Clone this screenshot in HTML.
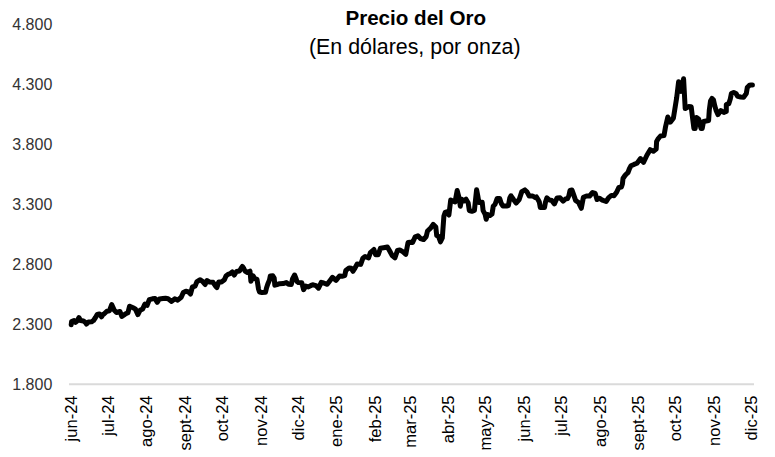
<!DOCTYPE html>
<html><head><meta charset="utf-8"><style>
html,body{margin:0;padding:0;background:#fff;}
body{width:775px;height:457px;overflow:hidden;position:relative;}
svg{position:absolute;left:0;top:0;}
.yl{font-family:"Liberation Sans",sans-serif;font-size:16px;fill:#333;}
.xl{font-family:"Liberation Sans",sans-serif;font-size:16.5px;fill:#000;}
.t1{font-family:"Liberation Sans",sans-serif;font-size:20.6px;font-weight:bold;fill:#000;}
.t2{font-family:"Liberation Sans",sans-serif;font-size:21.4px;fill:#000;}
</style></head><body>
<svg width="775" height="457" viewBox="0 0 775 457">
<text x="415.8" y="25.3" text-anchor="middle" class="t1">Precio del Oro</text>
<text x="414.8" y="54" text-anchor="middle" class="t2">(En dólares, por onza)</text>
<text x="52.3" y="30.05" text-anchor="end" class="yl">4.800</text>
<text x="52.3" y="90.05" text-anchor="end" class="yl">4.300</text>
<text x="52.3" y="150.05" text-anchor="end" class="yl">3.800</text>
<text x="52.3" y="210.05" text-anchor="end" class="yl">3.300</text>
<text x="52.3" y="270.05" text-anchor="end" class="yl">2.800</text>
<text x="52.3" y="330.05" text-anchor="end" class="yl">2.300</text>
<text x="52.3" y="390.05" text-anchor="end" class="yl">1.800</text>

<line x1="69" y1="384.2" x2="754" y2="384.2" stroke="#dadada" stroke-width="2"/>
<path d="M71.2,324.8 L71.6,321.6 L74.0,320.6 L75.5,322.3 L77.0,321.0 L79.0,317.6 L80.5,320.5 L83.5,321.0 L85.5,322.5 L86.5,324.0 L88.5,322.0 L91.5,321.8 L93.5,320.5 L95.5,317.5 L97.2,314.5 L99.5,314.0 L101.5,316.8 L103.0,314.5 L104.2,313.8 L106.9,311.2 L109.5,310.7 L111.7,304.6 L114.3,310.3 L116.5,312.5 L120.0,311.5 L121.8,316.5 L125.2,314.1 L127.9,312.8 L129.6,306.2 L133.1,307.8 L135.3,308.9 L137.9,314.6 L140.1,310.2 L142.7,308.9 L144.9,304.1 L147.1,305.4 L149.3,299.7 L152.4,298.8 L155.0,298.4 L157.2,302.3 L159.4,299.0 L162.9,298.6 L165.5,298.3 L168.1,298.8 L171.6,301.4 L174.7,298.8 L177.7,300.1 L181.2,297.3 L183.3,292.5 L185.9,291.2 L188.5,292.0 L190.5,294.0 L192.4,287.0 L195.1,286.2 L196.8,281.9 L199.9,279.7 L202.5,281.4 L205.1,284.5 L206.9,280.6 L209.5,281.9 L213.0,282.3 L215.6,286.2 L216.9,287.6 L218.7,281.9 L221.7,281.9 L224.4,279.7 L226.0,276.0 L228.0,274.4 L230.5,273.5 L232.3,272.0 L234.3,275.0 L236.5,271.5 L239.5,271.0 L241.0,268.5 L242.4,266.5 L243.8,268.5 L245.0,271.0 L247.5,272.5 L250.0,271.1 L250.9,281.2 L253.1,275.9 L254.8,278.6 L257.0,279.4 L258.5,289.0 L259.5,292.0 L262.0,292.5 L265.5,292.3 L266.5,288.0 L267.8,284.0 L269.5,280.0 L270.3,276.0 L272.8,275.8 L274.2,278.0 L274.8,285.2 L277.1,284.5 L279.7,283.7 L283.2,283.6 L286.3,282.5 L288.5,284.2 L291.3,284.4 L292.5,279.0 L294.6,275.0 L296.0,278.5 L297.0,281.5 L298.4,282.6 L301.8,282.8 L303.6,289.6 L305.8,286.1 L308.4,286.9 L311.5,285.2 L313.2,284.8 L315.9,285.6 L318.5,288.2 L321.3,282.4 L323.7,283.0 L327.2,284.3 L329.9,280.8 L332.5,277.3 L336.0,280.4 L339.5,276.0 L342.1,276.2 L344.8,275.6 L345.8,270.5 L349.1,267.9 L351.3,268.3 L353.0,271.3 L354.6,268.7 L357.2,263.9 L360.7,264.4 L362.9,258.2 L365.1,256.5 L368.6,257.8 L370.4,252.6 L373.9,249.5 L375.6,254.7 L378.2,254.7 L380.4,248.2 L383.5,247.7 L387.4,247.0 L389.6,250.8 L392.2,255.6 L394.9,257.8 L397.5,250.4 L399.7,249.9 L402.7,251.7 L405.8,254.3 L408.0,242.6 L410.2,242.3 L412.6,242.6 L415.2,236.8 L417.9,235.8 L420.5,238.5 L423.6,239.5 L426.2,236.5 L427.5,231.0 L430.6,228.2 L433.2,224.4 L435.8,227.1 L436.7,235.4 L438.4,236.2 L440.5,241.8 L442.3,238.0 L443.9,216.0 L445.2,212.4 L446.7,211.9 L446.7,212.1 L448.9,215.0 L450.7,200.1 L452.4,200.8 L455.1,201.8 L457.2,190.5 L459.0,197.5 L460.3,206.2 L461.6,199.2 L463.8,201.0 L466.0,199.2 L468.2,203.0 L469.3,210.5 L472.0,211.3 L474.4,210.5 L475.6,199.0 L476.6,189.8 L477.8,196.0 L478.9,202.5 L482.2,202.2 L483.1,210.6 L485.0,214.0 L486.2,219.2 L487.6,214.5 L490.0,215.5 L492.0,214.0 L493.3,206.0 L495.0,204.5 L497.1,198.6 L499.7,198.6 L501.3,203.5 L503.0,206.0 L506.5,206.0 L508.4,205.5 L509.8,198.0 L511.0,195.8 L513.5,199.5 L516.1,203.0 L519.2,199.5 L521.8,191.6 L524.9,189.9 L527.1,192.1 L529.2,196.0 L532.7,196.0 L535.4,197.7 L536.5,197.0 L538.0,199.5 L539.3,202.0 L540.3,207.5 L544.5,207.5 L545.5,202.0 L546.9,197.8 L549.1,199.8 L551.7,200.5 L554.4,203.9 L557.0,198.0 L560.1,197.8 L563.1,201.2 L565.5,199.0 L567.5,198.6 L568.8,196.0 L570.0,190.5 L572.0,190.0 L573.8,195.1 L575.6,200.4 L578.6,202.6 L581.3,208.3 L583.4,197.3 L586.5,196.0 L589.6,196.0 L592.6,192.5 L595.2,193.4 L597.0,199.5 L599.6,198.2 L602.4,200.2 L606.1,201.5 L608.7,197.6 L611.4,195.4 L614.0,195.8 L616.6,192.3 L618.8,187.5 L621.4,187.1 L622.4,184.0 L623.0,178.5 L625.0,175.5 L626.5,173.8 L628.0,172.5 L629.5,168.5 L631.0,165.8 L634.0,164.4 L637.0,163.2 L640.5,158.6 L643.6,162.3 L646.9,155.2 L650.2,149.7 L653.4,151.3 L656.2,149.1 L656.6,141.5 L658.3,138.6 L660.5,136.0 L664.0,135.6 L665.5,127.0 L667.8,117.0 L670.3,122.1 L673.4,118.2 L676.6,98.2 L678.6,81.8 L681.1,91.4 L683.6,78.8 L685.2,108.6 L688.6,106.6 L691.2,106.8 L692.6,118.2 L693.9,128.5 L695.2,128.5 L696.5,117.4 L696.5,117.6 L698.7,119.1 L701.0,128.5 L702.2,128.5 L703.5,121.5 L706.1,121.0 L708.6,120.5 L709.3,110.0 L710.5,101.0 L712.0,98.4 L713.5,100.0 L714.8,106.0 L716.3,111.0 L718.0,114.6 L720.9,110.5 L723.9,112.4 L726.3,111.5 L726.3,104.6 L728.8,103.6 L730.3,99.0 L731.4,93.5 L733.7,92.4 L736.2,93.8 L737.6,96.4 L740.6,97.0 L743.6,97.2 L746.3,93.5 L747.3,87.5 L749.5,85.2 L751.2,84.9 L752.4,84.9" fill="none" stroke="#000" stroke-width="5" stroke-linejoin="round" stroke-linecap="round"/>
<text x="0" y="0" transform="translate(76.60,395.5) rotate(-90)" text-anchor="end" class="xl">jun-24</text>
<text x="0" y="0" transform="translate(113.86,395.5) rotate(-90)" text-anchor="end" class="xl">jul-24</text>
<text x="0" y="0" transform="translate(152.36,395.5) rotate(-90)" text-anchor="end" class="xl">ago-24</text>
<text x="0" y="0" transform="translate(190.86,395.5) rotate(-90)" text-anchor="end" class="xl">sept-24</text>
<text x="0" y="0" transform="translate(228.12,395.5) rotate(-90)" text-anchor="end" class="xl">oct-24</text>
<text x="0" y="0" transform="translate(266.63,395.5) rotate(-90)" text-anchor="end" class="xl">nov-24</text>
<text x="0" y="0" transform="translate(303.89,395.5) rotate(-90)" text-anchor="end" class="xl">dic-24</text>
<text x="0" y="0" transform="translate(342.39,395.5) rotate(-90)" text-anchor="end" class="xl">ene-25</text>
<text x="0" y="0" transform="translate(380.89,395.5) rotate(-90)" text-anchor="end" class="xl">feb-25</text>
<text x="0" y="0" transform="translate(415.67,395.5) rotate(-90)" text-anchor="end" class="xl">mar-25</text>
<text x="0" y="0" transform="translate(454.17,395.5) rotate(-90)" text-anchor="end" class="xl">abr-25</text>
<text x="0" y="0" transform="translate(491.43,395.5) rotate(-90)" text-anchor="end" class="xl">may-25</text>
<text x="0" y="0" transform="translate(529.93,395.5) rotate(-90)" text-anchor="end" class="xl">jun-25</text>
<text x="0" y="0" transform="translate(567.19,395.5) rotate(-90)" text-anchor="end" class="xl">jul-25</text>
<text x="0" y="0" transform="translate(605.69,395.5) rotate(-90)" text-anchor="end" class="xl">ago-25</text>
<text x="0" y="0" transform="translate(644.19,395.5) rotate(-90)" text-anchor="end" class="xl">sept-25</text>
<text x="0" y="0" transform="translate(681.45,395.5) rotate(-90)" text-anchor="end" class="xl">oct-25</text>
<text x="0" y="0" transform="translate(719.96,395.5) rotate(-90)" text-anchor="end" class="xl">nov-25</text>
<text x="0" y="0" transform="translate(757.22,395.5) rotate(-90)" text-anchor="end" class="xl">dic-25</text>

</svg>
</body></html>
